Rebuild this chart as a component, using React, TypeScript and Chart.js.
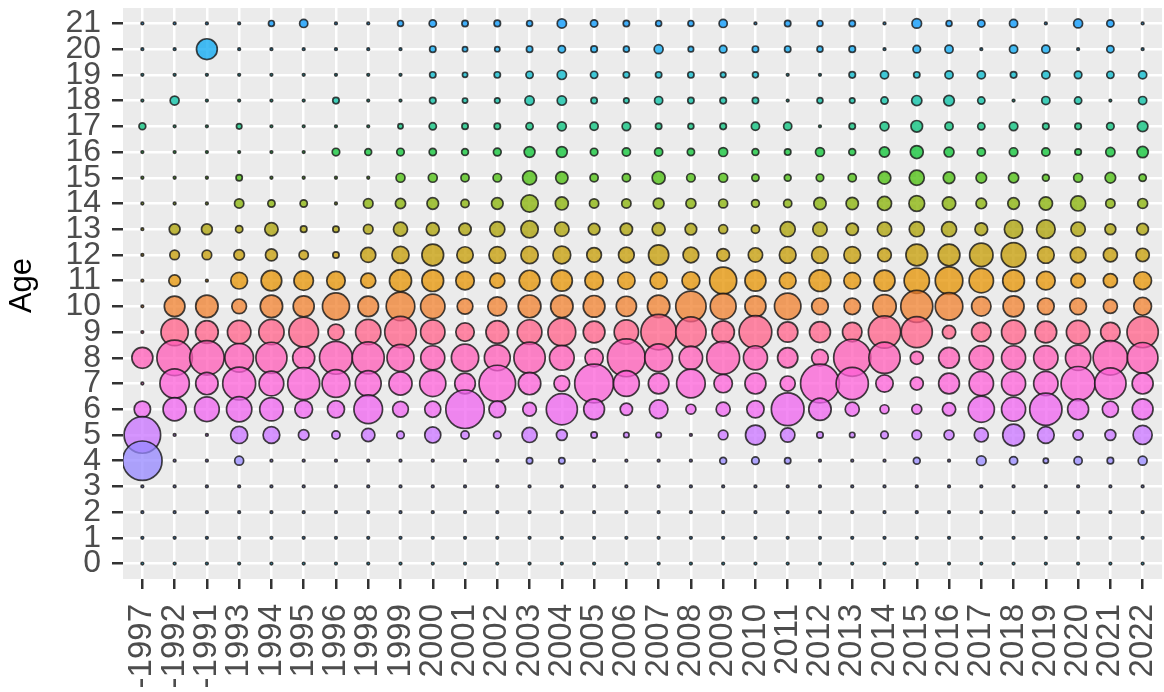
import React, { useEffect, useRef } from "react";
import { Chart, registerables } from "chart.js";
Chart.register(...registerables);

// Categories (x) and ages (y)
const years = ["-1997", "-1992", "-1991", "1993", "1994", "1995", "1996", "1998", "1999", "2000", "2001", "2002", "2003", "2004", "2005", "2006", "2007", "2008", "2009", "2010", "2011", "2012", "2013", "2014", "2015", "2016", "2017", "2018", "2019", "2020", "2021", "2022"];
const ageTicks = [0, 1, 2, 3, 4, 5, 6, 7, 8, 9, 10, 11, 12, 13, 14, 15, 16, 17, 18, 19, 20, 21];
const yTitle = "Age";

// Counts per age, one value per year column (same order as `years`)
const age0 = [0, 0, 0, 0, 0, 0, 0, 0, 0, 0, 0, 0, 0, 0, 0, 0, 0, 0, 0, 0, 0, 0, 0, 0, 0, 0, 0, 0, 0, 0, 0, 0];
const age1 = [0, 0, 0, 0, 0, 0, 0, 0, 0, 0, 0, 0, 0, 0, 0, 0, 0, 0, 0, 0, 0, 0, 0, 0, 0, 0, 0, 0, 0, 0, 0, 0];
const age2 = [0, 0, 0, 0, 0, 0, 0, 0, 0, 0, 0, 0, 0, 0, 0, 0, 0, 0, 0, 0, 0, 0, 0, 0, 0, 0, 0, 0, 0, 0, 0, 0];
const age3 = [0, 0, 0, 0, 0, 0, 0, 0, 0, 0, 0, 0, 0, 0, 0, 0, 0, 0, 0, 0, 0, 0, 0, 0, 0, 0, 0, 0, 0, 0, 0, 0];
const age4 = [100, 0, 0, 3, 0, 0, 0, 0, 0, 0, 0, 0, 1, 1, 0, 0, 0, 0, 1.3, 1.8, 1, 0, 0, 0, 1.3, 0, 3.6, 2.3, 0.5, 2.3, 1.1, 3];
const age5 = [85, 0, 0, 15.5, 14.7, 4.7, 2.3, 8.5, 1.8, 13.4, 2.3, 1.8, 11.5, 5, 1, 0.6, 0.6, 0, 3.6, 22, 10.2, 1.1, 0.6, 1.8, 3.6, 4, 9.7, 27, 14.7, 4.3, 5, 20];
const age6 = [14, 31, 36, 38, 32, 17, 15.5, 50, 12.7, 13.4, 95, 14.7, 9, 60, 24.5, 7, 19, 4, 9.7, 16, 67, 29, 9.7, 3, 4, 8.5, 41, 34, 65, 25, 13.4, 24.5];
const age7 = [0, 53, 29, 68, 36, 64, 47, 40, 31, 41, 24, 85, 29, 12.7, 97, 40, 24, 50, 18.5, 25, 11.5, 97, 65, 16, 8, 24.5, 35, 34, 35, 73, 61, 25];
const age8 = [25, 80, 75, 50, 60, 28, 68, 64, 44, 34, 45, 40, 61, 36, 18, 92, 47, 32, 68, 34, 23, 14.7, 88, 61, 8, 24.5, 35, 34, 35, 38, 75, 58];
const age9 = [0, 45, 30, 32, 38, 54, 13.4, 38, 62, 35, 18.5, 30, 36, 47, 27, 35, 80, 57, 29, 67, 23, 25, 21, 65, 60, 8.5, 21, 34, 27, 32, 21, 61];
const age10 = [0, 24, 29, 10.8, 29, 25, 44, 24, 50, 35, 12.7, 20, 30, 29, 27, 23, 29, 57, 40, 25, 42, 14.7, 14, 32, 64, 46, 21, 25, 14.7, 14.7, 9.7, 17];
const age11 = [0, 6, 0, 14.7, 24, 21, 18.5, 11.5, 28, 27, 18.5, 11.5, 24.5, 25, 18.5, 16, 15.5, 17, 44, 25, 14.7, 27, 14.7, 25, 38, 46, 35, 27, 19, 10.2, 9.7, 17];
const age12 = [0, 3.6, 3.6, 4.7, 6.5, 3.3, 1, 11.5, 15.5, 27, 14, 14.7, 16, 17, 10.8, 12.7, 23, 12.7, 7.5, 10.2, 14.7, 14.7, 14.7, 9, 27, 27, 32, 36, 14.7, 12.7, 9.7, 8.5];
const age13 = [0, 5, 5, 1.6, 8.5, 1.1, 1, 3.6, 9.7, 8, 7, 11.5, 16, 10.2, 6, 7, 8, 6, 3, 2.3, 11.5, 10.2, 7, 10.2, 11.5, 11.5, 7.5, 18.5, 19, 10.2, 5, 6];
const age14 = [0, 0, 0, 3.3, 1.6, 1.6, 0, 3.6, 4.3, 6, 2.3, 6, 16, 8, 3.3, 3.3, 5, 4, 3, 2, 2.3, 7, 7, 9.7, 12.7, 8.5, 4.7, 6, 8.5, 11.5, 3.3, 4];
const age15 = [0, 0, 0, 1, 0, 0, 0, 0, 3, 3, 2.3, 2.6, 9.7, 7, 2.3, 2.3, 8, 2.6, 3, 1.6, 1.3, 1.8, 2.3, 7.5, 11.5, 6, 4.7, 4.3, 1.3, 3, 4.7, 1.6];
const age16 = [0, 0, 0, 0, 0, 0, 1.8, 1.3, 1.8, 1.6, 1.3, 2, 5, 5, 1.8, 2.3, 2.3, 1.6, 3, 1.3, 1.1, 3, 1.3, 4.3, 8, 4, 2.3, 2.6, 2.3, 1.1, 3.3, 5.6];
const age17 = [1.3, 0, 0, 0.6, 0, 0, 0, 0, 0.5, 1.6, 1, 1, 1.6, 3, 2.3, 2.6, 1, 0.8, 1.1, 2.3, 2.3, 0, 1, 3, 6, 2.3, 1.6, 2.6, 1.1, 1.1, 1.8, 4.7];
const age18 = [0, 3, 0, 0, 0, 0, 1.1, 0, 0, 1.1, 0.5, 0.6, 3.3, 3.3, 1, 0.6, 2.3, 1, 1.1, 1, 0, 0.8, 0.6, 1.6, 4.3, 4.7, 1.6, 0, 2.3, 1.6, 0, 2.3];
const age19 = [0, 0, 0, 0, 0, 0, 0, 0, 0, 1, 0.5, 1, 1.6, 3.3, 1.6, 1, 1, 1, 0.6, 0.8, 0, 0, 1.1, 2.3, 1, 2.3, 2.3, 1.1, 2.3, 1.8, 1.6, 2.3];
const age20 = [0, 0, 24.5, 0, 0, 0, 0, 0, 0, 1, 0.5, 0.5, 1, 1.6, 1.1, 0.8, 3, 0.6, 1.8, 1, 1, 0.8, 1.1, 0, 1.8, 2.3, 0, 2.3, 2.3, 0, 1.6, 0];
const age21 = [0, 0, 0, 0, 0.8, 2.3, 0, 0, 0.8, 1.6, 1, 1.1, 0.8, 3.3, 1.6, 1, 0.8, 0.8, 2.3, 0, 1, 0.8, 1, 0, 3.6, 0.8, 1.6, 2.3, 0, 3, 1.6, 0];

const series = [age0, age1, age2, age3, age4, age5, age6, age7, age8, age9, age10, age11, age12, age13, age14, age15, age16, age17, age18, age19, age20, age21];

// Fill colour per age
const ageColors = ["#00ACE0", "#2A9FFF", "#5E97FF", "#7F8EFF", "#9687FF", "#C872FF", "#EF63EF", "#FC5FD7", "#FF5BB7", "#FF5F87", "#EF7F2C", "#E49200", "#C39A00", "#AA9F00", "#84AF00", "#47BC07", "#06C02F", "#00BE77", "#00BEA2", "#00B6CA", "#07A7F2", "#0094F9"];

const FONT = "'Liberation Sans', Arial, sans-serif";
const MAXV = 100;
const sizeOf = (v: number) => 1.3 + 18.4 * Math.sqrt(v / MAXV);

function withAlpha(hex: string, a: number) {
  const n = parseInt(hex.slice(1), 16);
  return `rgba(${(n >> 16) & 255},${(n >> 8) & 255},${n & 255},${a})`;
}

const panelBg = {
  id: "panelBg",
  beforeDraw(chart: any) {
    const { ctx, chartArea } = chart;
    ctx.save();
    ctx.fillStyle = "#EBEBEB";
    ctx.fillRect(chartArea.left, chartArea.top, chartArea.right - chartArea.left, chartArea.bottom - chartArea.top);
    ctx.restore();
  },
  afterDraw(chart: any) {
    const { ctx, chartArea } = chart;
    ctx.save();
    ctx.translate(22, (chartArea.top + chartArea.bottom) / 2 - 8);
    ctx.rotate(-Math.PI / 2);
    ctx.font = `31px ${FONT}`;
    ctx.fillStyle = "#000000";
    ctx.textAlign = "center";
    ctx.textBaseline = "middle";
    ctx.fillText(yTitle, 0, 0);
    ctx.restore();
  },
};

function zeroPad(s: any) {
  s.paddingLeft = 0;
  s.paddingRight = 0;
  s.paddingTop = 0;
  s.paddingBottom = 0;
}

export default function App() {
  const ref = useRef<HTMLCanvasElement | null>(null);
  useEffect(() => {
    if (!ref.current) return;
    const datasets = series.map((vals, ai) => ({
      label: String(ageTicks[ai]),
      data: vals.map((v, xi) => ({ x: xi, y: ageTicks[ai], r: sizeOf(v) })),
      backgroundColor: withAlpha(ageColors[ai], 0.75),
      borderColor: "rgba(25,25,25,0.82)",
      borderWidth: 1.7,
    }));
    const chart = new Chart(ref.current, {
      type: "bubble",
      data: { datasets },
      plugins: [panelBg],
      options: {
        animation: false,
        responsive: false,
        devicePixelRatio: 1,
        layout: { autoPadding: false, padding: { top: 8, right: 2, left: 0, bottom: 0 } },
        plugins: { legend: { display: false }, tooltip: { enabled: false } },
        scales: {
          x: {
            type: "linear",
            min: -0.6,
            max: 31.6,
            afterBuildTicks: (s: any) => {
              s.ticks = years.map((_, i) => ({ value: i }));
            },
            afterFit: (s: any) => {
              s.height = 113;
              zeroPad(s);
            },
            ticks: {
              autoSkip: false,
              maxRotation: 90,
              minRotation: 90,
              padding: 15,
              color: "#4D4D4D",
              font: { family: FONT, size: 33 },
              callback: (v: any) => years[Math.round(Number(v))],
            },
            grid: { color: "#FFFFFF", lineWidth: 2.5, tickColor: "#333333", tickLength: 10, tickWidth: 2.5 },
            border: { display: false },
          },
          y: {
            type: "linear",
            min: -0.6,
            max: 21.6,
            afterBuildTicks: (s: any) => {
              s.ticks = ageTicks.map((v) => ({ value: v }));
            },
            afterFit: (s: any) => {
              s.width = 123;
              zeroPad(s);
            },
            ticks: {
              autoSkip: false,
              padding: 11,
              color: "#4D4D4D",
              font: { family: FONT, size: 32 },
            },
            title: { display: false },
            grid: { color: "#FFFFFF", lineWidth: 2.5, tickColor: "#333333", tickLength: 11, tickWidth: 2.5 },
            border: { display: false },
          },
        },
      },
    } as any);
    return () => chart.destroy();
  }, []);
  return (
    <div style={{ position: "fixed", left: 0, top: 0, width: 1164, height: 692, background: "#fff" }}>
      <canvas ref={ref} width={1164} height={692} style={{ display: "block" }} />
    </div>
  );
}
